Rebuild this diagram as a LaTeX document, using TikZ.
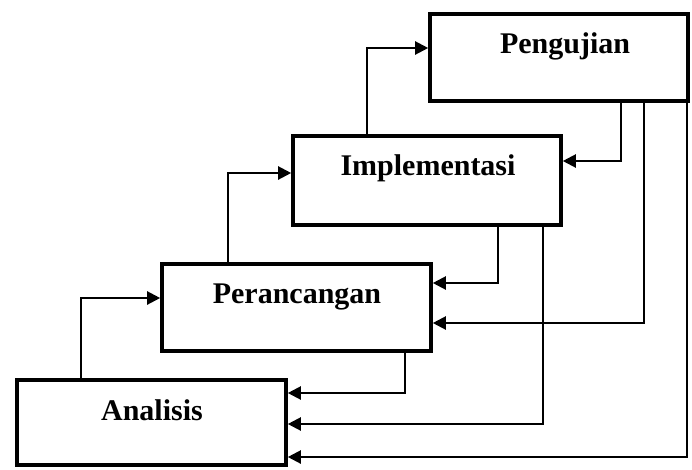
\documentclass[tikz,border=0pt]{standalone}
\usepackage{fontspec}
\setmainfont{Liberation Serif}
\usetikzlibrary{arrows.meta}
\begin{document}
\begin{tikzpicture}[x=1pt,y=-1pt,
  stagebox/.style={draw=black,line width=3.6pt,rectangle,inner sep=0pt},
  stagelabel/.style={anchor=base,inner sep=0pt,font=\fontsize{30}{31}\selectfont\bfseries},
  flow/.style={draw=black,line width=2.2pt,-{Triangle[length=13pt,width=13pt]}}]
\useasboundingbox (0,0) rectangle (692,469);
\fill[white] (0,0) rectangle (692,469);
% boxes
\node[stagebox,minimum width=258pt,minimum height=87pt] (pg) at (559,57.5) {};
\node[stagebox,minimum width=268pt,minimum height=89pt] (im) at (427,180.5) {};
\node[stagebox,minimum width=269pt,minimum height=87pt] (pr) at (296.5,307.5) {};
\node[stagebox,minimum width=269pt,minimum height=85pt] (an) at (151.5,422.5) {};
% labels
\node[stagelabel] (pgt) at (565,53) {Pengujian};
\node[stagelabel] (imt) at (428,175) {Implementasi};
\node[stagelabel] (prt) at (297,303) {Perancangan};
\node[stagelabel] (ant) at (152,420) {Analisis};
% forward connectors
\draw[flow] (an.north -| 81,0) |- (pr.west |- 0,298);
\draw[flow] (pr.north -| 228,0) |- (im.west |- 0,173);
\draw[flow] (im.north -| 367,0) |- (pg.west |- 0,48);
% feedback connectors
\draw[flow] (pg.south -| 621,0) |- (im.east |- 0,161);
\draw[flow] (pg.south -| 644,0) |- (pr.east |- 0,323);
\draw[flow] (pg.south -| 687,0) |- (an.east |- 0,457);
\draw[flow] (im.south -| 498,0) |- (pr.east |- 0,283);
\draw[flow] (im.south -| 543,0) |- (an.east |- 0,424);
\draw[flow] (pr.south -| 405,0) |- (an.east |- 0,393);
\end{tikzpicture}
\end{document}
